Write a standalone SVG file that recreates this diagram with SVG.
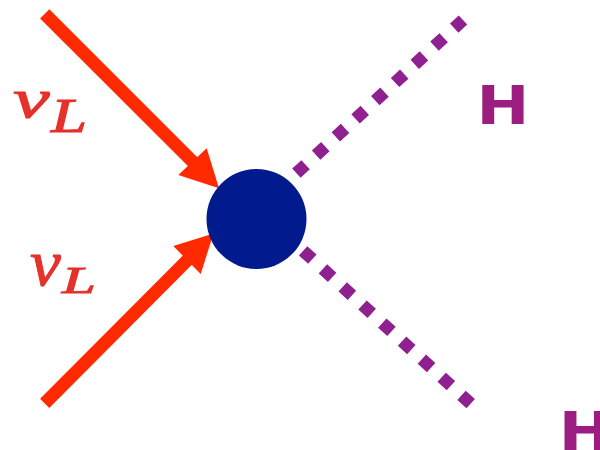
<svg xmlns="http://www.w3.org/2000/svg" width="600" height="450" viewBox="0 0 600 450">
<defs>
<style>
.fermion{stroke:#ff2a00;stroke-width:13;fill:none;stroke-linecap:butt}
.head{fill:#ff2a00}
.scalar{stroke:#8e2090;stroke-width:12.5;fill:none;stroke-dasharray:12.5 14.3}
.lbl{font-family:"Liberation Serif","DejaVu Serif",serif;font-style:italic;fill:#e5302c;stroke:#e5302c;stroke-width:1}
.h{font-family:"DejaVu Sans","Liberation Sans",sans-serif;font-weight:bold;font-size:54px;fill:#9c1d80}
</style>
<filter id="soft" x="-10%" y="-10%" width="120%" height="120%"><feGaussianBlur stdDeviation="0.7"/></filter>
</defs>
<rect width="600" height="450" fill="#fff"/>
<g id="connectors">
<path class="fermion" d="M44.7,13.8 L194,163"/>
<polygon class="head" points="206.7,148.3 178.3,175 219,188.2"/>
<path class="fermion" d="M44.7,403.3 L188.5,259"/>
<polygon class="head" points="173.3,246 200.7,274 213.5,233.5"/>
<path class="scalar" d="M296.4,173.2 L463,20"/>
<path class="scalar" d="M303.1,250.8 L471,404"/>
</g>
<g id="vertex"><circle cx="256.5" cy="219" r="50" fill="#011a8e"/></g>
<g id="label-nu1" filter="url(#soft)">
<text class="lbl" font-size="55" transform="translate(13,117) scale(1.5,1)">ν</text>
<text class="lbl" font-size="48" transform="translate(51,132) scale(1.35,1)">L</text>
</g>
<g id="label-nu2" filter="url(#soft)">
<text class="lbl" font-size="66" transform="translate(30,285) scale(1.05,1)">ν</text>
<text class="lbl" font-size="38" transform="translate(62,293) scale(1.6,1)">L</text>
</g>
<g id="label-H1"><text class="h" transform="translate(476.5,124.3) scale(1.17,1)">H</text></g>
<g id="label-H2"><text class="h" transform="translate(558.8,450) scale(1.17,1)">H</text></g>
</svg>
